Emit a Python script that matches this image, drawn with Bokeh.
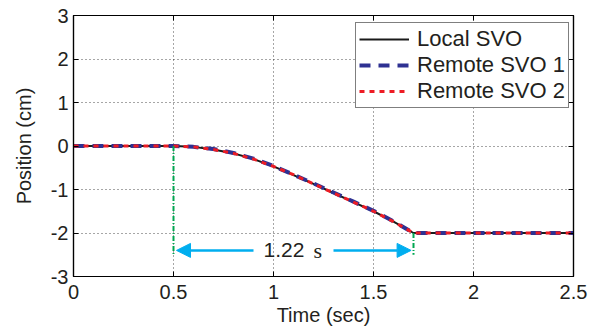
from bokeh.plotting import figure
from bokeh.models import (Range1d, FixedTicker, LinearAxis, Arrow, NormalHead, Label, Legend,
                          LegendItem, ColumnDataSource, CustomJSTickFormatter)
from bokeh.embed import file_html
from bokeh.resources import INLINE

# ---- data ----
time = [0.0, 0.5, 0.6, 0.7, 0.8, 0.9, 1.0, 1.1, 1.2, 1.3, 1.4, 1.5, 1.6, 1.7, 2.0, 2.5]
local_svo = [0.0, 0.0, -0.02, -0.08, -0.17, -0.30, -0.47, -0.67, -0.87, -1.08, -1.29, -1.50, -1.74, -2.0, -2.0, -2.0]
remote_svo_1 = [0.0, 0.0, -0.02, -0.07, -0.16, -0.29, -0.46, -0.66, -0.86, -1.07, -1.28, -1.49, -1.73, -2.0, -2.0, -2.0]
remote_svo_2 = [0.0, 0.0, -0.02, -0.08, -0.17, -0.30, -0.47, -0.66, -0.87, -1.08, -1.29, -1.50, -1.74, -2.0, -2.0, -2.0]

x_ticks = [0, 0.5, 1, 1.5, 2, 2.5]
y_ticks = [-3, -2, -1, 0, 1, 2, 3]
y_tick_labels = ["-3", "-2", "-1", "0", "1", "2", "3"]

marker_x = [0.5, 1.70]
marker_top = [0.0, -2.0]
marker_bottom = [-2.5, -2.5]
interval_y = -2.4
interval_text = "1.22"
interval_unit = "s"

FONT = "Liberation Sans"
TXT = "#231f20"

p = figure(width=592, height=331, x_range=Range1d(0, 2.5), y_range=Range1d(-3, 3),
           output_backend="svg", toolbar_location=None,
           min_border_left=73, min_border_right=19, min_border_top=15, min_border_bottom=55)
p.background_fill_color = "white"
p.outline_line_color = "black"
p.outline_line_width = 1.2

xt = FixedTicker(ticks=x_ticks)
yt = FixedTicker(ticks=y_ticks)

for ax in [p.xaxis[0], p.yaxis[0]]:
    ax.axis_line_color = "black"
    ax.axis_line_width = 1.2
    ax.major_tick_in = 5
    ax.major_tick_out = 0
    ax.major_tick_line_color = "black"
    ax.minor_tick_line_color = None
    ax.major_label_text_font = FONT
    ax.major_label_text_font_size = "20px"
    ax.major_label_text_color = TXT
    ax.axis_label_text_font = FONT
    ax.axis_label_text_font_size = "20px"
    ax.axis_label_text_font_style = "normal"
    ax.axis_label_text_color = TXT

p.xaxis.ticker = xt
p.yaxis.ticker = yt
p.yaxis.major_label_overrides = {t: l for t, l in zip(y_ticks, y_tick_labels)}
p.xaxis.major_label_overrides = {0: "0", 1: "1", 2: "2"}
p.xaxis.axis_label = "Time (sec)"
p.yaxis.axis_label = "Position (cm)"
p.xaxis.major_label_standoff = 8
p.xaxis.axis_label_standoff = 2
p.yaxis.major_label_standoff = 5
p.yaxis.axis_label_standoff = 13

blank = CustomJSTickFormatter(code="return '';")
for loc, tk in [("above", xt), ("right", yt)]:
    ax = LinearAxis(ticker=tk, formatter=blank, major_label_standoff=0,
                    major_tick_in=5, major_tick_out=0, minor_tick_line_color=None,
                    axis_line_color="black", axis_line_width=1.2, major_tick_line_color="black")
    p.add_layout(ax, loc)

for g in [p.xgrid[0], p.ygrid[0]]:
    g.grid_line_color = "black"
    g.grid_line_alpha = 0.7
    g.grid_line_dash = "1 3"
    g.grid_line_width = 1
p.xgrid.ticker = xt
p.ygrid.ticker = yt

src = ColumnDataSource(dict(t=time, a=local_svo, b=remote_svo_1, c=remote_svo_2))
r1 = p.line("t", "a", source=src, line_color="#1a1a1a", line_width=2)
r2 = p.line("t", "b", source=src, line_color="#2e3192", line_width=4, line_dash="11 8")
r3 = p.line("t", "c", source=src, line_color="#ed1c24", line_width=3, line_dash="5 5")

# interval markers
p.segment(x0=marker_x, y0=marker_top, x1=marker_x, y1=marker_bottom,
          line_color="#00a651", line_width=2, line_dash="5 2 1 2")

head = dict(size=14, fill_color="#00aeef", line_color="#00aeef")
p.add_layout(Arrow(end=NormalHead(**head), x_start=0.90, y_start=interval_y,
                   x_end=marker_x[0] + 0.015, y_end=interval_y,
                   line_color="#00aeef", line_width=2.5))
p.add_layout(Arrow(end=NormalHead(**head), x_start=1.30, y_start=interval_y,
                   x_end=marker_x[1] - 0.012, y_end=interval_y,
                   line_color="#00aeef", line_width=2.5))
p.add_layout(Label(x=0.95, y=interval_y, text=interval_text, text_font=FONT,
                   text_font_size="21px", text_color=TXT, text_baseline="middle", text_align="left"))
p.add_layout(Label(x=1.20, y=interval_y, text=interval_unit, text_font="Liberation Serif",
                   text_font_size="22px", text_color=TXT, text_baseline="middle", text_align="left"))

legend = Legend(items=[LegendItem(label="Local SVO", renderers=[r1]),
                       LegendItem(label="Remote SVO 1", renderers=[r2]),
                       LegendItem(label="Remote SVO 2", renderers=[r3])],
                location=(282, 168))
legend.border_line_color = "black"
legend.border_line_width = 1.2
legend.background_fill_color = "white"
legend.background_fill_alpha = 1
legend.label_text_font = FONT
legend.label_text_font_size = "22px"
legend.label_text_color = TXT
legend.glyph_width = 50
legend.glyph_height = 22
legend.label_height = 22
legend.label_standoff = 8
legend.spacing = 0
legend.padding = 3
legend.margin = 0
p.add_layout(legend)

open("out.html", "w").write(file_html(p, INLINE))
